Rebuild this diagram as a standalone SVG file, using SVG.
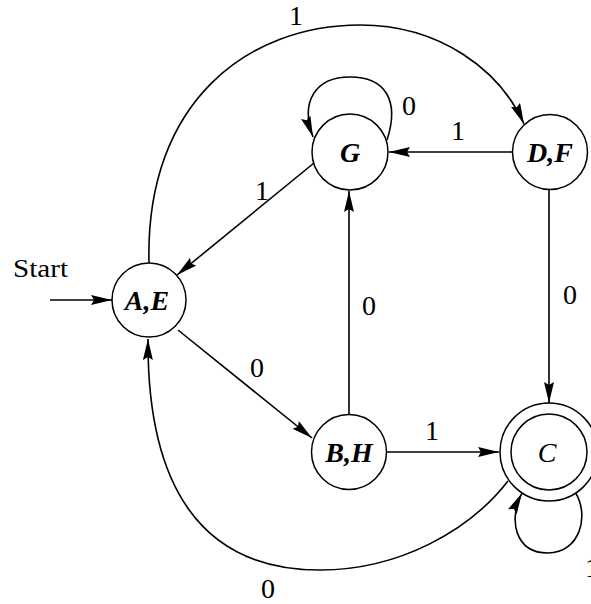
<svg xmlns="http://www.w3.org/2000/svg" width="591" height="604" viewBox="0 0 591 604">
<style>
.edge{fill:none;stroke:#000;stroke-width:1.6}
.node{fill:#fff;stroke:#000;stroke-width:1.5}
.nl{font-family:"Liberation Serif","Times New Roman",serif;font-style:italic;font-weight:bold;font-size:28px;text-anchor:middle;fill:#000}
.el{font-family:"Liberation Serif","Times New Roman",serif;font-size:28px;text-anchor:middle;fill:#000}
</style>
<defs>
<marker id="arr" markerUnits="userSpaceOnUse" markerWidth="22" markerHeight="11" refX="21" refY="5" orient="auto">
<path d="M0,0 L21,5 L0,10 L3,5 z" fill="#000"/>
</marker>
</defs>
<rect width="591" height="604" fill="#fff"/>
<g id="connectors">
<line class="edge" x1="50" y1="300" x2="112" y2="300" marker-end="url(#arr)"/>
<path class="edge" d="M149,263 C145,100 250,25 360,25 C440,25 500,70 524,124" marker-end="url(#arr)"/>
<path class="edge" d="M387,140 C400,100 385,77 350,77 C315,77 300,102 313,137" marker-end="url(#arr)"/>
<line class="edge" x1="513" y1="152" x2="389" y2="152" marker-end="url(#arr)"/>
<line class="edge" x1="314" y1="163" x2="177" y2="275" marker-end="url(#arr)"/>
<line class="edge" x1="178" y1="330" x2="312" y2="438" marker-end="url(#arr)"/>
<line class="edge" x1="349" y1="414" x2="349" y2="191" marker-end="url(#arr)"/>
<line class="edge" x1="549" y1="190" x2="549" y2="403" marker-end="url(#arr)"/>
<line class="edge" x1="387" y1="452" x2="499" y2="452" marker-end="url(#arr)"/>
<path class="edge" d="M508,481 C470,530 400,570 320,570 C200,570 147,485 148,339" marker-end="url(#arr)"/>
<path class="edge" d="M575,492 C590,515 580,553 548,553 C515,553 508,520 522,493" marker-end="url(#arr)"/>
<text class="el" x="296" y="25">1</text>
<text class="el" x="409" y="115">0</text>
<text class="el" x="458" y="140">1</text>
<text class="el" x="262" y="200">1</text>
<text class="el" x="257" y="377">0</text>
<text class="el" x="369" y="315">0</text>
<text class="el" x="570" y="304">0</text>
<text class="el" x="432" y="440">1</text>
<text class="el" x="268" y="598">0</text>
<text x="585" y="577" style="font-family:'Liberation Serif',serif;font-size:28px;fill:#000">1</text>
<text x="13" y="277" textLength="55" lengthAdjust="spacingAndGlyphs" style="font-family:'Liberation Serif','Times New Roman',serif;font-size:25px;fill:#000">Start</text>
</g>
<g id="node-AE"><circle class="node" cx="149" cy="300" r="37"/><text class="nl" x="147" y="310">A,E</text></g>
<g id="node-G"><circle class="node" cx="350" cy="152" r="38"/><text class="nl" x="350" y="162">G</text></g>
<g id="node-DF"><circle class="node" cx="550" cy="152" r="37.5"/><text class="nl" x="550" y="162">D,F</text></g>
<g id="node-BH"><circle class="node" cx="349" cy="452" r="37.5"/><text class="nl" x="349" y="462">B,H</text></g>
<g id="node-C"><circle class="node" cx="549" cy="452" r="49"/><circle class="node" cx="549" cy="452" r="38"/><text class="nl" x="547" y="462" style="font-weight:normal">C</text></g>
</svg>
